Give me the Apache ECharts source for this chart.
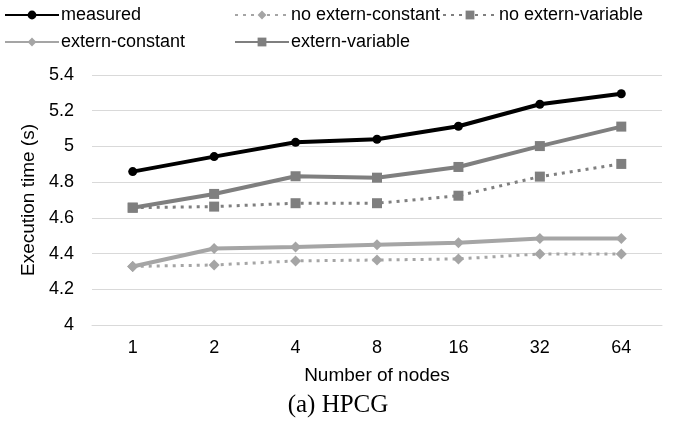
<!DOCTYPE html>
<html><head><meta charset="utf-8">
<script src="https://cdn.jsdelivr.net/npm/echarts@6/dist/echarts.min.js"></script>
<style>html,body{margin:0;padding:0;background:#fff}#c{width:673px;height:428px}</style>
</head><body><div id="c"></div>
<script>
const categories = ['1','2','4','8','16','32','64'];
const measured = [4.859, 4.943, 5.023, 5.040, 5.113, 5.236, 5.295];
const externVariable = [4.657, 4.734, 4.833, 4.825, 4.885, 5.002, 5.111];
const noExternVariable = [4.657, 4.663, 4.682, 4.682, 4.724, 4.831, 4.902];
const externConstant = [4.328, 4.428, 4.437, 4.450, 4.461, 4.485, 4.485];
const noExternConstant = [4.328, 4.336, 4.359, 4.364, 4.370, 4.398, 4.398];
const seriesNames = ['measured','no extern-constant','no extern-variable','extern-constant','extern-variable'];

const font = 'Liberation Sans, Arial, sans-serif';
const chart = echarts.init(document.getElementById('c'), null, {renderer:'canvas'});

function mk(name, data, color, symbol, size, dotted, width) {
  return {
    name, type:'line', data, symbol, symbolSize:size, showAllSymbol:true,
    lineStyle:{color, width, type: dotted ? [3,5] : 'solid'},
    itemStyle:{color, borderWidth:0},
    emphasis:{disabled:true}, animation:false
  };
}
const legendPos = [
  {left:4, top:6},
  {left:234, top:6},
  {left:442, top:6},
  {left:4, top:33},
  {left:234, top:33}
];
const legends = seriesNames.map((n,i)=>({
  data:[n], left:legendPos[i].left, top:legendPos[i].top, padding:0,
  itemWidth:54, itemHeight:11, itemGap:0,
  textStyle:{fontFamily:font, fontSize:18, color:'#000', padding:[0,0,0,-3]},
  selectedMode:false
}));

chart.setOption({
  backgroundColor:'#fff',
  animation:false,
  legend: legends,
  title:{text:'(a) HPCG', left:338, textAlign:'center', top:393, padding:0,
    textStyle:{fontFamily:'Liberation Serif, Times New Roman, serif', fontSize:25, fontWeight:'normal', color:'#000'}},
  grid:{left:92, right:11, top:75, bottom:103},
  xAxis:{
    type:'category', data:categories, boundaryGap:true,
    axisLine:{show:true, lineStyle:{color:'#d9d9d9', width:1}},
    axisTick:{show:false},
    axisLabel:{fontFamily:font, fontSize:18, color:'#000', margin:14},
    name:'Number of nodes', nameLocation:'middle', nameGap:41,
    nameTextStyle:{fontFamily:font, fontSize:19, color:'#000'}
  },
  yAxis:{
    type:'value', min:4, max:5.4, interval:0.2,
    axisLine:{show:false}, axisTick:{show:false},
    splitLine:{lineStyle:{color:'#d9d9d9', width:1}},
    axisLabel:{fontFamily:font, fontSize:18, color:'#000', margin:18,
      formatter:v=>String(parseFloat(v.toFixed(1)))},
    name:'Execution time (s)', nameLocation:'middle', nameGap:52, nameRotate:90,
    nameTextStyle:{fontFamily:font, fontSize:19, color:'#000'}
  },
  series:[
    mk('no extern-constant', noExternConstant, '#a5a5a5', 'diamond', 11, true, 3),
    mk('no extern-variable', noExternVariable, '#7f7f7f', 'rect', 10, true, 3),
    mk('extern-constant', externConstant, '#a5a5a5', 'diamond', 11, false, 4),
    mk('extern-variable', externVariable, '#7f7f7f', 'rect', 10, false, 4),
    mk('measured', measured, '#000000', 'circle', 9, false, 4)
  ]
});
</script></body></html>
